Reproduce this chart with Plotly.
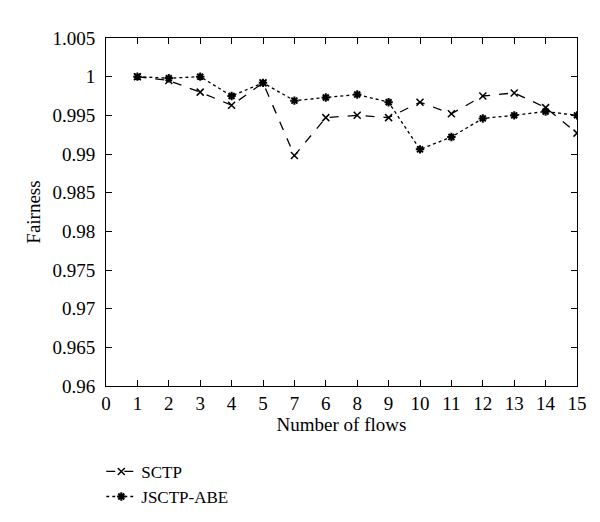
import plotly.graph_objects as go

tick_labels = ["0", "1", "2", "3", "4", "5", "7", "6", "8", "9", "10", "11", "12", "13", "14", "15"]
positions = list(range(1, 16))
sctp = [1.0, 0.9995, 0.998, 0.9963, 0.9992, 0.9898, 0.9947, 0.995, 0.9947, 0.9967, 0.9952, 0.9975, 0.9979, 0.996, 0.9927]
jsctp = [1.0, 0.9998, 1.0, 0.9975, 0.9992, 0.9969, 0.9973, 0.9977, 0.9967, 0.9906, 0.9922, 0.9946, 0.995, 0.9955, 0.995]

font = dict(family="Liberation Serif, Times New Roman, serif", size=19, color="black")
legend_font = dict(family="Liberation Serif, Times New Roman, serif", size=17, color="black")

fig = go.Figure()
fig.add_trace(go.Scatter(
    x=positions, y=sctp, name="SCTP", mode="lines+markers",
    line=dict(color="black", width=1.3, dash="dash"),
    marker=dict(symbol="x-thin-open", size=7, color="black", line=dict(width=1.5, color="black")),
))
fig.add_trace(go.Scatter(
    x=positions, y=jsctp, name="JSCTP-ABE", mode="lines+markers",
    line=dict(color="black", width=1.3, dash="dot"),
    marker=dict(symbol="asterisk-open", size=7, color="black", line=dict(width=2, color="black")),
))

axis_common = dict(
    showline=True, linecolor="black", linewidth=1, mirror="ticks",
    ticks="inside", ticklen=6, tickcolor="black", showgrid=False, zeroline=False,
    tickfont=font,
)
fig.update_xaxes(
    range=[0, 15], tickmode="array", tickvals=list(range(len(tick_labels))), ticktext=tick_labels,
    title=dict(text="Number of flows", font=font, standoff=0), **axis_common,
)
fig.update_yaxes(
    range=[0.96, 1.005], dtick=0.005, tickformat="~g", ticklabelstandoff=6,
    title=dict(text="Fairness", font=font, standoff=6), **axis_common,
)
fig.update_layout(
    width=600, height=522,
    margin=dict(l=98, r=31, t=30, b=144),
    plot_bgcolor="white", paper_bgcolor="white",
    font=font,
    showlegend=True,
    legend=dict(x=-0.01, y=-0.195, xanchor="left", yanchor="top", orientation="v",
                font=legend_font, bgcolor="rgba(0,0,0,0)", itemwidth=30, tracegroupgap=0),
)
fig.write_html("out.html")
